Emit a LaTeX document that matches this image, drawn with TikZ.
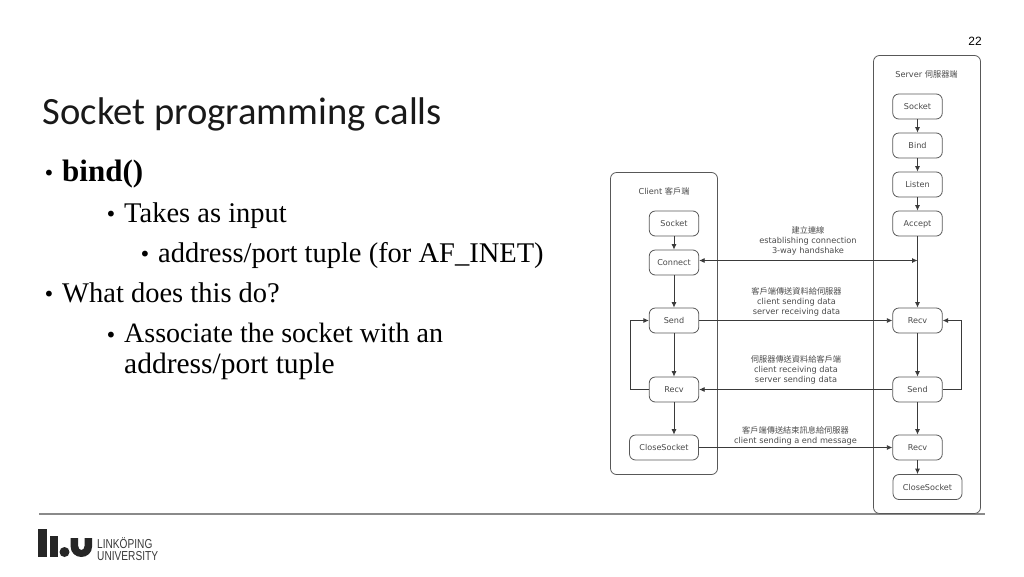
\documentclass[tikz,border=0pt]{standalone}
\usepackage{fontspec}
\setmainfont{Liberation Serif}
\newfontfamily\titlefont{Carlito}
\newfontfamily\diagfont{DejaVu Sans}
\newfontfamily\cjk{Noto Sans CJK TC}
\newfontfamily\numfont{Liberation Sans}
\newfontfamily\logofont[FakeStretch=0.78]{Liberation Sans}
\usetikzlibrary{arrows.meta}
\definecolor{ink}{HTML}{3A3A3A}
\definecolor{dtxt}{HTML}{4A4A4A}
\definecolor{rulec}{HTML}{8A8A8A}
\tikzset{
 frame/.style={draw=ink!85,line width=.8pt,rounded corners=6pt},
 box/.style={draw=ink!85,line width=.8pt,rounded corners=6pt,minimum height=25pt,inner sep=0pt,text height=8pt,text depth=1.5pt,font=\diagfont\fontsize{8.1}{10}\selectfont,text=dtxt},
 nbox/.style={box,minimum width=49.5pt},
 wbox/.style={box,minimum width=69pt},
 lab/.style={font=\diagfont\fontsize{8.2}{10}\selectfont,text=dtxt,align=center,inner sep=0pt},
 conn/.style={draw=ink,line width=.8pt,-{Latex[length=5.5pt,width=5pt]}},
 body/.style={anchor=base west,inner sep=0pt,text=black,font=\fontsize{28.5}{30}\selectfont},
 blet/.style={anchor=base west,inner sep=0pt,text=black,font=\diagfont\fontsize{20}{24}\selectfont},
 logotxt/.style={anchor=base west,inner sep=0pt,font=\logofont\fontsize{13}{13}\selectfont,text=ink},
}
\begin{document}
\begin{tikzpicture}[x=1pt,y=-1pt]
\useasboundingbox (0,0) rectangle (1024,576);
% rule
\coordinate (ruleL) at (39,514);
\coordinate (ruleR) at (985,514);
\draw[rulec,line width=1.1pt] (ruleL) -- (ruleR);
% page number
\node[anchor=base east,inner sep=0pt,font=\numfont\fontsize{12}{14}\selectfont,text=black] (pg) at (982,45) {22};
% title
\node[anchor=base west,inner sep=0pt,font=\titlefont\fontsize{38.6}{42}\selectfont,text=black!90] (title) at (42.5,124) {Socket programming calls};
% bullets
\node[blet] (b1) at (43,180) {•};
\node[body,font=\bfseries\fontsize{31}{32}\selectfont] (t1) at (62,181) {bind()};
\node[blet] (b2) at (105,221) {•};
\node[body] (t2) at (124,222) {Takes as input};
\node[blet] (b3) at (139,261) {•};
\node[body] (t3) at (158,262) {address/port tuple (for AF\_INET)};
\node[blet] (b4) at (43,301) {•};
\node[body] (t4) at (62,302) {What does this do?};
\node[blet] (b5) at (105,342) {•};
\node[body,font=\fontsize{28}{30}\selectfont] (t5) at (124,342) {Associate the socket with an};
\node[body,font=\fontsize{29.5}{30}\selectfont] (t6) at (124,373) {address/port tuple};
% frames
\draw[frame,fill=white] (610.5,172.5) rectangle (717.5,474.5);
\draw[frame,fill=white] (873.5,55.5) rectangle (980.5,513.5);
\node[lab] (clbl) at (664,191.5) {Client {\cjk 客戶端}};
\node[lab] (slbl) at (926.5,74.5) {Server {\cjk 伺服器端}};
% client nodes
\node[nbox] (cs) at (674,223.5) {Socket};
\node[nbox] (cc) at (674,262.5) {Connect};
\node[nbox] (cd) at (674,320.5) {Send};
\node[nbox] (cr) at (674,389.5) {Recv};
\node[wbox] (cx) at (664,447.5) {CloseSocket};
% server nodes
\node[nbox] (ss) at (917.5,106.5) {Socket};
\node[nbox] (sb) at (917.5,145.5) {Bind};
\node[nbox] (sl) at (917.5,184.5) {Listen};
\node[nbox] (sa) at (917.5,223.5) {Accept};
\node[nbox] (sr) at (917.5,320.5) {Recv};
\node[nbox] (sd) at (917.5,389.5) {Send};
\node[nbox] (se) at (917.5,447.5) {Recv};
\node[wbox] (sx) at (927.5,487) {CloseSocket};
% vertical connectors
\draw[conn] (cs) -- (cc);
\draw[conn] (cc) -- (cd);
\draw[conn] (cd) -- (cr);
\draw[conn] (cr.south) -- (cr.south |- cx.north);
\draw[conn] (ss) -- (sb);
\draw[conn] (sb) -- (sl);
\draw[conn] (sl) -- (sa);
\draw[conn] (sa) -- (sr);
\draw[conn] (sr) -- (sd);
\draw[conn] (sd) -- (se);
\draw[conn] (se.south) -- (se.south |- sx.north);
% handshake
\coordinate (hs) at (917.5,260.5);
\draw[draw=ink,line width=.8pt,{Latex[length=5.5pt,width=5pt]}-{Latex[length=5.5pt,width=5pt]}] (cc.east |- hs) -- (hs);
% horizontal messages
\draw[conn] (cd) -- (sr);
\draw[conn] (sd) -- (cr);
\draw[conn] (cx) -- (se);
% loops
\coordinate (cl) at (630,389.5);
\coordinate (sl2) at (961,389.5);
\draw[conn] (cr.west) -- (cl) |- (cd.west);
\draw[conn] (sd.east) -- (sl2) |- (sr.east);
% labels
\node[lab] (l1) at (808,241) {{\cjk 建立連線}\\establishing connection\\3-way handshake};
\node[lab] (l2) at (796.5,301.5) {{\cjk 客戶端傳送資料給伺服器}\\client sending data\\server receiving data};
\node[lab] (l3) at (796,370) {{\cjk 伺服器傳送資料給客戶端}\\client receiving data\\server sending data};
\node[lab] (l4) at (795.5,435.5) {{\cjk 客戶端傳送結束訊息給伺服器}\\client sending a end message};
% logo
\fill[black!85] (38,529) rectangle (47.3,557);
\fill[black!85] (49.5,535.5) rectangle (57.5,557);
\fill[black!85] (64.5,552) circle (5);
\fill[black!85] (70.7,538) -- (70.7,547) arc[start angle=180,end angle=360,x radius=10.65,y radius=-10] -- (92,538) -- (84.5,538) -- (84.5,546) arc[start angle=360,end angle=180,x radius=3.15,y radius=-4] -- (78.2,538) -- cycle;
\node[logotxt] (lg1) at (97,548) {LINKÖPING};
\node[logotxt] (lg2) at (97,560) {UNIVERSITY};
\end{tikzpicture}
\end{document}
